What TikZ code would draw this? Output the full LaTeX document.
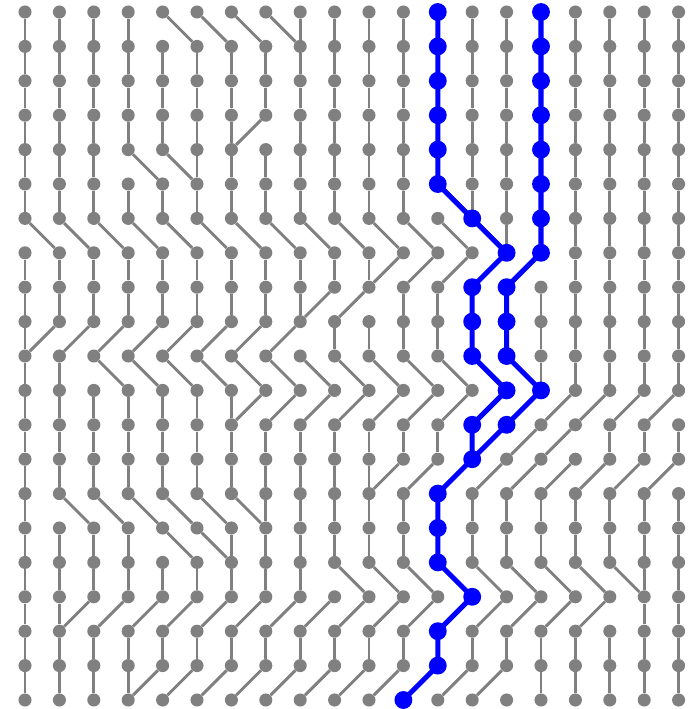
\documentclass[tikz,border=0pt]{standalone}

\tikzset{
  indiv/.style={circle, fill=gray, inner sep=0pt, minimum size=3.8mm},
  ancestor/.style={circle, fill=blue, inner sep=0pt, minimum size=5.2mm},
  link/.style={draw=gray, line width=2.4pt},
  lineage/.style={draw=blue, line width=4.2pt},
}

\begin{document}
\begin{tikzpicture}[x=1cm,y=-1cm]
  \useasboundingbox (-0.727,-0.349) rectangle (19.419,20.262);

  % individuals: column c, generation r
  \foreach \r in {0,...,20}
    \foreach \c in {0,...,19}
      \node[indiv] (n-\c-\r) at (\c,\r) {};

  % parent of each individual in the next row: -1 left, 0 below, 1 right
  \foreach \r/\offs in {
     0/{0,0,0,0,1,1,1,1,0,0,0,0,0,0,0,0,0,0,0,0},
     1/{0,0,0,0,0,0,0,0,0,0,0,0,0,0,0,0,0,0,0,0},
     2/{0,0,0,0,0,0,0,0,0,0,0,0,0,0,0,0,0,0,0,0},
     3/{0,0,0,0,0,0,0,-1,0,0,0,0,0,0,0,0,0,0,0,0},
     4/{0,0,0,1,1,0,0,0,0,0,0,0,0,0,0,0,0,0,0,0},
     5/{0,0,0,0,0,0,0,0,0,0,0,0,1,0,0,0,0,0,0,0},
     6/{1,1,1,1,1,1,1,1,1,1,1,1,1,1,0,0,0,0,0,0},
     7/{0,0,0,0,0,0,0,0,0,0,0,-1,-1,-1,-1,-1,0,0,0,0},
     8/{0,0,0,0,0,0,0,0,0,-1,-1,0,0,0,0,0,0,0,0,0},
     9/{0,-1,-1,-1,-1,-1,-1,-1,-1,0,0,0,0,0,0,0,0,0,0,0},
    10/{0,0,1,1,1,1,1,1,1,1,1,1,1,1,1,0,0,0,0,0},
    11/{0,0,0,0,0,0,0,-1,-1,-1,-1,-1,-1,-1,-1,-1,-1,-1,-1,-1},
    12/{0,0,0,0,0,0,0,0,0,0,0,0,0,0,-1,-1,-1,0,0,0},
    13/{0,0,0,0,0,0,0,0,0,0,0,-1,-1,-1,-1,-1,-1,-1,-1,-1},
    14/{0,1,1,1,1,1,1,0,0,0,0,0,0,0,0,0,0,0,0,0},
    15/{0,0,0,0,1,1,0,0,0,0,0,0,0,0,0,0,0,0,0,0},
    16/{0,0,0,0,0,0,0,0,0,1,1,1,1,1,1,1,1,1,0,0},
    17/{0,0,-1,-1,-1,-1,-1,-1,-1,-1,-1,-1,-1,-1,-1,-1,-1,-1,0,0},
    18/{0,0,0,0,0,0,0,0,0,0,0,0,0,0,0,0,0,0,0,0},
    19/{0,0,0,0,-1,-1,-1,-1,-1,-1,-1,-1,-1,-1,-1,0,0,0,0,0}} {
    \pgfmathtruncatemacro{\rr}{\r+1}
    \foreach \d [count=\c from 0] in \offs {
      \pgfmathtruncatemacro{\p}{\c+\d}
      \draw[link] (n-\c-\r) -- (n-\p-\rr);
    }
  }

  % the two sampled lineages
  \draw[lineage] (n-12-0) -- (n-12-1) -- (n-12-2) -- (n-12-3) -- (n-12-4)
    -- (n-12-5) -- (n-13-6) -- (n-14-7) -- (n-13-8) -- (n-13-9) -- (n-13-10)
    -- (n-14-11) -- (n-13-12) -- (n-13-13) -- (n-12-14) -- (n-12-15)
    -- (n-12-16) -- (n-13-17) -- (n-12-18) -- (n-12-19) -- (n-11-20);
  \draw[lineage] (n-15-0) -- (n-15-1) -- (n-15-2) -- (n-15-3) -- (n-15-4)
    -- (n-15-5) -- (n-15-6) -- (n-15-7) -- (n-14-8) -- (n-14-9) -- (n-14-10)
    -- (n-15-11) -- (n-14-12) -- (n-13-13);

  \foreach \c/\r in {12/0,12/1,12/2,12/3,12/4,12/5,13/6,14/7,13/8,13/9,13/10,
      14/11,13/12,13/13,12/14,12/15,12/16,13/17,12/18,12/19,11/20,
      15/0,15/1,15/2,15/3,15/4,15/5,15/6,15/7,14/8,14/9,14/10,15/11,14/12}
    \node[ancestor] (b-\c-\r) at (\c,\r) {};
\end{tikzpicture}
\end{document}
